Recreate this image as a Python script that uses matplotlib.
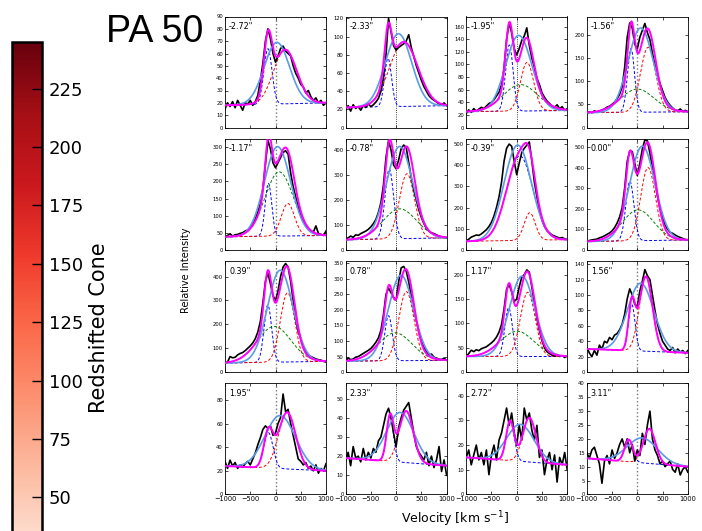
import numpy as np
import matplotlib
matplotlib.use("Agg")
import matplotlib.pyplot as plt
from matplotlib.colors import Normalize
from matplotlib.cm import ScalarMappable

# velocity grid of the observed spectra [km/s]
velocity = np.arange(-1000, 1001, 50)

offsets = ['-2.72"', '-2.33"', '-1.95"', '-1.56"',
           '-1.17"', '-0.78"', '-0.39"', '0.00"',
           '0.39"', '0.78"', '1.17"', '1.56"',
           '1.95"', '2.33"', '2.72"', '3.11"']
ymax = [90, 122, 176, 240, 325, 445, 525, 540, 465, 357, 228, 144, 94, 58, 45, 40]
ystep = [10, 20, 20, 50, 50, 100, 100, 100, 100, 50, 50, 20, 20, 10, 10, 5]

flux_m272 = [15, 20, 17, 21, 16, 22, 18, 14, 20, 19, 22, 18, 21, 26, 38, 52, 70, 80, 72, 60, 53,
             58, 64, 66, 62, 60, 58, 50, 44, 40, 35, 33, 28, 30, 25, 22, 24, 20, 22, 18, 20]
flux_m233 = [20, 24, 18, 25, 21, 23, 19, 24, 22, 26, 23, 25, 28, 32, 40, 55, 80, 120, 105, 90, 85,
             88, 90, 92, 95, 102, 88, 78, 68, 60, 52, 45, 40, 35, 32, 30, 28, 26, 25, 27, 24]
flux_m195 = [22, 28, 24, 30, 26, 29, 32, 30, 34, 38, 40, 44, 50, 56, 68, 95, 140, 166, 150, 125, 115,
             125, 138, 145, 158, 130, 110, 95, 78, 68, 55, 48, 42, 38, 34, 32, 36, 30, 33, 27, 30]
flux_m156 = [30, 34, 32, 36, 33, 35, 38, 40, 44, 46, 50, 55, 62, 72, 88, 130, 195, 226, 215, 180, 170,
             195, 210, 225, 205, 190, 160, 135, 115, 95, 80, 65, 55, 48, 42, 38, 36, 40, 35, 37, 34]
flux_m117 = [38, 42, 47, 40, 44, 45, 48, 50, 55, 58, 65, 75, 90, 110, 135, 180, 250, 320, 295, 255, 240,
             255, 270, 285, 290, 280, 225, 185, 155, 125, 100, 82, 72, 62, 55, 52, 70, 48, 45, 42, 55]
flux_m078 = [42, 48, 55, 50, 60, 58, 65, 70, 75, 82, 92, 105, 122, 150, 190, 260, 370, 438, 400, 340, 325,
             360, 405, 420, 410, 350, 290, 240, 200, 160, 130, 105, 85, 75, 68, 65, 60, 55, 52, 50, 48]
flux_m039 = [42, 50, 60, 65, 70, 68, 75, 85, 95, 110, 130, 160, 200, 250, 320, 420, 480, 500, 490, 420, 355,
             410, 460, 480, 495, 510, 420, 320, 250, 190, 140, 110, 90, 80, 70, 65, 60, 55, 58, 52, 50]
flux_p000 = [42, 45, 48, 50, 52, 58, 62, 68, 75, 82, 92, 108, 130, 160, 205, 300, 430, 480, 478, 420, 362,
             420, 490, 535, 530, 470, 400, 330, 260, 200, 160, 120, 100, 85, 80, 72, 65, 60, 55, 50, 48]
flux_p039 = [38, 42, 65, 60, 62, 72, 78, 82, 90, 100, 110, 122, 140, 168, 212, 290, 380, 415, 370, 320, 300,
             340, 400, 440, 455, 440, 380, 300, 220, 170, 140, 105, 85, 70, 65, 60, 55, 52, 50, 45, 42]
flux_p078 = [35, 45, 40, 42, 48, 50, 55, 60, 65, 70, 76, 85, 96, 110, 135, 185, 250, 270, 255, 240, 232,
             290, 335, 340, 325, 290, 245, 200, 165, 130, 100, 80, 65, 55, 58, 48, 45, 42, 40, 45, 38]
flux_p117 = [32, 38, 45, 42, 46, 44, 48, 50, 52, 56, 60, 65, 72, 82, 98, 130, 170, 180, 165, 145, 150,
             175, 195, 200, 210, 205, 175, 140, 110, 85, 65, 50, 42, 38, 35, 33, 36, 32, 34, 30, 33]
flux_p156 = [32, 25, 20, 28, 22, 35, 30, 40, 38, 45, 42, 48, 50, 55, 62, 75, 95, 108, 100, 88, 85,
             105, 118, 133, 125, 120, 100, 80, 62, 50, 40, 35, 30, 28, 32, 25, 30, 26, 28, 24, 28]
flux_p195 = [28, 22, 29, 24, 27, 22, 25, 23, 26, 28, 25, 30, 35, 42, 48, 55, 58, 56, 58, 50, 52,
             60, 65, 85, 70, 72, 60, 50, 40, 30, 28, 25, 27, 22, 24, 20, 25, 18, 22, 20, 26]
flux_p233 = [18, 22, 15, 25, 19, 20, 17, 24, 18, 22, 19, 24, 22, 28, 30, 36, 42, 45, 40, 32, 25,
             35, 40, 44, 46, 48, 40, 32, 25, 22, 20, 18, 22, 15, 20, 14, 18, 25, 12, 18, 10]
flux_p272 = [15, 18, 12, 16, 20, 14, 17, 12, 18, 8, 16, 20, 14, 22, 25, 30, 35, 28, 33, 25, 20,
             28, 22, 35, 30, 33, 26, 22, 28, 15, 18, 8, 14, 17, 10, 16, 5, 15, 12, 17, 10]
flux_p311 = [15, 13, 16, 17, 14, 11, 4, 12, 14, 11, 16, 13, 15, 18, 20, 17, 20, 15, 18, 12, 16,
             14, 22, 18, 25, 30, 20, 16, 14, 11, 12, 10, 11, 12, 9, 8, 11, 7, 9, 10, 8]

# fitted Gaussian components: linear continuum + amplitude, centre, sigma
cont_left = [18, 22, 25, 32, 38, 40, 40, 40, 38, 35, 32, 30, 24, 19, 15, 13]
cont_right = [20, 24, 27, 34, 42, 48, 48, 48, 45, 38, 32, 25, 20, 15, 12, 10]
blue_amp = [45, 53, 105, 138, 155, 280, 400, 290, 240, 145, 100, 60, 30, 23, 16, 8]
blue_cen = [-150, -160, -146, -125, -140, -135, 60, -147, -152, -150, -159, -110, -140, -120, -130, -170]
blue_sig = [80, 70, 75, 70, 65, 85, 260, 80, 75, 75, 75, 65, 90, 70, 80, 80]
red_amp = [44, 71, 77, 140, 95, 260, 130, 355, 290, 222, 132, 97, 48, 27, 18, 12.5]
red_cen = [190, 150, 205, 213, 245, 216, 258, 213, 238, 203, 219, 170, 230, 200, 250, 240]
red_sig = [230, 280, 130, 150, 130, 150, 110, 145, 140, 150, 145, 130, 170, 140, 130, 120]
green_amp = [0, 0, 42, 50, 188, 120, 0, 150, 150, 90, 52, 0, 0, 0, 0, 0]
green_cen = [0, 0, 73, 0, 73, 70, 0, 13, -26, -20, 7, 0, 0, 0, 0, 0]
green_sig = [1, 1, 340, 330, 280, 330, 1, 310, 330, 330, 330, 1, 1, 1, 1, 1]
single_amp = [50, 80, 120, 182, 262, 370, 451, 460, 385, 275, 165, 88, 45, 26, 15, 9]
single_cen = [26, 47, 40, 67, 40, 70, 20, 100, 93, 96, 106, 67, 93, 83, 73, 100]
single_sig = [250, 260, 260, 250, 260, 260, 270, 250, 250, 250, 250, 260, 300, 270, 270, 300]

fluxes = [flux_m272, flux_m233, flux_m195, flux_m156, flux_m117, flux_m078, flux_m039, flux_p000,
          flux_p039, flux_p078, flux_p117, flux_p156, flux_p195, flux_p233, flux_p272, flux_p311]

cbar_ticks = [50, 75, 100, 125, 150, 175, 200, 225]


def gauss(v, a, c, s):
    return a * np.exp(-0.5 * ((v - c) / s) ** 2)


W, H = 702.0, 531.0
fig = plt.figure(figsize=(W / 100, H / 100), dpi=100)


def px_axes(left, top, width, height):
    return fig.add_axes([left / W, 1 - (top + height) / H, width / W, height / H])


vfine = np.linspace(-1000, 1000, 401)

for k in range(16):
    row, col = divmod(k, 4)
    ax = px_axes(225 + 120.6 * col, 16.5 + 122.3 * row, 101, 111)

    cont = cont_left[k] + (cont_right[k] - cont_left[k]) * (vfine + 1000) / 2000.0
    blue = gauss(vfine, blue_amp[k], blue_cen[k], blue_sig[k])
    red = gauss(vfine, red_amp[k], red_cen[k], red_sig[k])
    green = gauss(vfine, green_amp[k], green_cen[k], green_sig[k])
    single = gauss(vfine, single_amp[k], single_cen[k], single_sig[k])

    if col in (0, 3):
        ax.axvline(0, color='#777777', ls=':', lw=1.0, zorder=1)
    else:
        ax.axvline(0, color='k', ls=':', lw=0.6, zorder=1)

    ax.plot(vfine, cont + blue, color='b', ls='--', lw=0.7, dashes=(3, 2), zorder=2)
    ax.plot(vfine, cont + red, color='r', ls='--', lw=0.7, dashes=(3, 2), zorder=2)
    if green_amp[k] > 0:
        ax.plot(vfine, cont + green, color='g', ls='--', lw=0.7, dashes=(3, 2), zorder=2)
    ax.plot(velocity, fluxes[k], color='k', lw=1.2, zorder=3)
    ax.plot(vfine, cont + single, color='#5b9be6', lw=1.2, zorder=4)
    ax.plot(vfine, cont + blue + red + green, color='#ff00ff', lw=1.4, zorder=5)

    ax.set_xlim(-1000, 1000)
    ax.set_ylim(0, ymax[k])
    ax.set_xticks([-1000, -500, 0, 500, 1000])
    ax.set_yticks(np.arange(0, ymax[k] + 0.1, ystep[k]))
    ax.tick_params(direction='in', top=True, right=True, length=2.5, width=0.5,
                   labelsize=3.8, pad=1.5)
    ax.tick_params(axis='x', labelsize=4.8)
    if row < 3:
        ax.set_xticklabels([])
    for sp in ax.spines.values():
        sp.set_linewidth(0.6)
    ax.text(0.04, 0.95, offsets[k], transform=ax.transAxes, fontsize=5.8,
            ha='left', va='top')

fig.text(186 / W, 1 - 270 / H, 'Relative Intensity', rotation=90, fontsize=7,
         ha='center', va='center')
fig.text(455 / W, 1 - 519 / H, 'Velocity [km s$^{-1}$]', fontsize=9,
         ha='center', va='center')
fig.text(155 / W, 1 - 42 / H, 'PA 50', fontsize=27, family='Liberation Sans',
         ha='center', va='baseline')

# colour bar, runs off the bottom of the figure
cax = px_axes(12, 42, 30, 572)
sm = ScalarMappable(norm=Normalize(0, 245), cmap=plt.cm.Reds)
cb = fig.colorbar(sm, cax=cax, ticks=cbar_ticks)
cb.outline.set_linewidth(1.8)
cb.ax.tick_params(direction='in', length=7, width=1, labelsize=13, pad=5)
cb.set_label('Redshifted Cone', fontsize=15, labelpad=4)

fig.savefig('out.png', dpi=100)
